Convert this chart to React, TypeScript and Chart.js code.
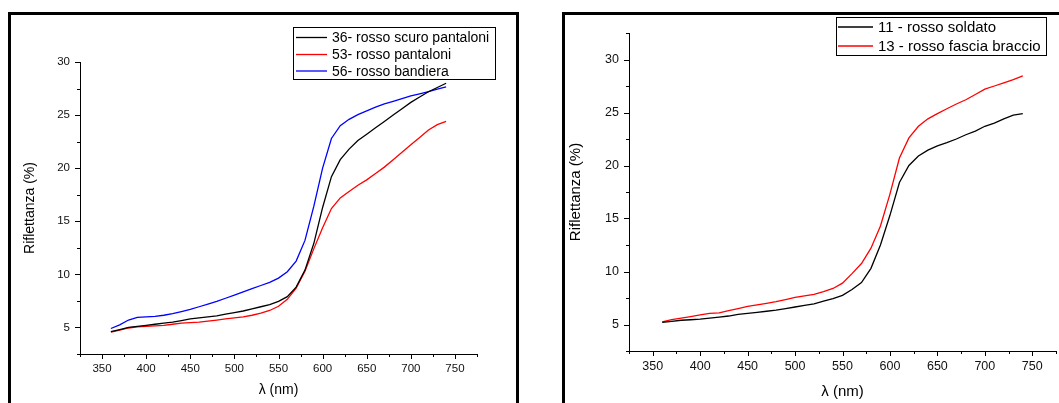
import React, { useEffect, useRef } from "react";
import { Chart, registerables } from "chart.js";

Chart.register(...registerables);

// ---------------- DATA ----------------
const wavelengths = [
  360, 370, 380, 390, 400, 410, 420, 430, 440, 450, 460, 470, 480, 490, 500,
  510, 520, 530, 540, 550, 560, 570, 580, 590, 600, 610, 620, 630, 640, 650,
  660, 670, 680, 690, 700, 710, 720, 730, 740,
];

// left panel
const rossoScuroPantaloni36 = [
  4.6, 4.8, 5.0, 5.1, 5.2, 5.3, 5.4, 5.5, 5.65, 5.8, 5.9, 6.0, 6.1, 6.25, 6.4,
  6.55, 6.75, 6.95, 7.15, 7.45, 7.9, 8.8, 10.4, 12.9, 16.3, 19.2, 20.8, 21.8, 22.6, 23.2,
  23.8, 24.4, 25.0, 25.6, 26.2, 26.7, 27.2, 27.6, 28.0,
];
const rossoPantaloni53 = [
  4.55, 4.75, 4.95, 5.05, 5.1, 5.15, 5.2, 5.3, 5.4, 5.45, 5.5, 5.6, 5.7, 5.8, 5.9,
  6.0, 6.15, 6.35, 6.6, 7.0, 7.65, 8.7, 10.3, 12.4, 14.4, 16.2, 17.2, 17.8, 18.4, 18.9,
  19.5, 20.1, 20.8, 21.5, 22.2, 22.9, 23.6, 24.1, 24.4,
];
const rossoBandiera56 = [
  4.9, 5.25, 5.7, 5.95, 6.0, 6.05, 6.15, 6.3, 6.5, 6.7, 6.95, 7.2, 7.45, 7.75, 8.05,
  8.35, 8.65, 8.95, 9.25, 9.65, 10.25, 11.25, 13.2, 16.4, 20.0, 22.8, 24.0, 24.6, 25.05, 25.4,
  25.75, 26.05, 26.3, 26.55, 26.8, 27.0, 27.2, 27.45, 27.65,
];

// right panel
const rossoSoldato11 = [
  5.2, 5.3, 5.4, 5.45, 5.5, 5.6, 5.7, 5.8, 5.95, 6.05, 6.15, 6.25, 6.35, 6.5, 6.65,
  6.8, 6.95, 7.2, 7.45, 7.75, 8.3, 8.95, 10.3, 12.5, 15.3, 18.4, 20.0, 20.9, 21.45, 21.85,
  22.15, 22.5, 22.9, 23.25, 23.7, 24.0, 24.4, 24.75, 24.9,
];
const rossoFasciaBraccio13 = [
  5.25, 5.45, 5.6, 5.75, 5.9, 6.05, 6.1, 6.3, 6.5, 6.7, 6.85, 7.0, 7.15, 7.35, 7.55,
  7.7, 7.85, 8.1, 8.4, 8.9, 9.8, 10.75, 12.2, 14.3, 17.3, 20.7, 22.6, 23.7, 24.4, 24.9,
  25.35, 25.8, 26.2, 26.7, 27.2, 27.5, 27.8, 28.1, 28.45,
];

const leftLabels = ["36- rosso scuro pantaloni", "53- rosso pantaloni", "56- rosso bandiera"];
const rightLabels = ["11 - rosso soldato", "13 - rosso fascia braccio"];

const X_MIN = 325;
const X_MAX = 775;
const X_STEP = 25;
const X_LABEL_STEP = 50;
const Y_MIN = 2.5;
const Y_MAX_LEFT = 30;
const Y_MAX_RIGHT = 32.5;
const Y_STEP = 2.5;
const Y_LABEL_STEP = 5;

const X_TITLE = "λ (nm)";
const Y_TITLE = "Riflettanza (%)";

// ---------------- STYLE ----------------
const FONT = '"Liberation Sans", Arial, Helvetica, sans-serif';
const H = 403;

const isMult = (v: number, step: number) => {
  const r = Math.abs(v / step - Math.round(v / step));
  return r < 1e-6;
};

interface LegendSpec {
  x: number;
  y: number;
  w: number;
  h: number;
  lineX0: number;
  lineX1: number;
  textX: number;
  rows: number[];
  font: number;
}

interface PanelSpec {
  width: number;
  left: number;
  area: { left: number; right: number; top: number; bottom: number };
  yMax: number;
  tickFont: number;
  titleFont: number;
  yTitlePad: number;
  xTitlePad: number;
  series: { label: string; color: string; values: number[] }[];
  legend: LegendSpec;
}

const leftSpec: PanelSpec = {
  width: 530,
  left: 0,
  area: { left: 80, right: 477, top: 62, bottom: 354 },
  yMax: Y_MAX_LEFT,
  tickFont: 11.5,
  titleFont: 14,
  yTitlePad: 21.6,
  xTitlePad: 4,
  series: [
    { label: leftLabels[0], color: "#000000", values: rossoScuroPantaloni36 },
    { label: leftLabels[1], color: "#ff0000", values: rossoPantaloni53 },
    { label: leftLabels[2], color: "#0000ff", values: rossoBandiera56 },
  ],
  legend: {
    x: 293.5,
    y: 27.5,
    w: 202,
    h: 52,
    lineX0: 296,
    lineX1: 327,
    textX: 332,
    rows: [37.5, 54.5, 71],
    font: 14,
  },
};

const rightSpec: PanelSpec = {
  width: 529,
  left: 530,
  area: { left: 99, right: 526, top: 33, bottom: 351 },
  yMax: Y_MAX_RIGHT,
  tickFont: 12.5,
  titleFont: 15,
  yTitlePad: 36.7,
  xTitlePad: 2,
  series: [
    { label: rightLabels[0], color: "#000000", values: rossoSoldato11 },
    { label: rightLabels[1], color: "#ff0000", values: rossoFasciaBraccio13 },
  ],
  legend: {
    x: 306.5,
    y: 17.5,
    w: 210,
    h: 38,
    lineX0: 308,
    lineX1: 343,
    textX: 348,
    rows: [27, 46],
    font: 15,
  },
};

function Panel({ spec }: { spec: PanelSpec }) {
  const ref = useRef<HTMLCanvasElement>(null);

  useEffect(() => {
    const canvas = ref.current;
    if (!canvas) return;
    const a = spec.area;

    const ticksPlugin = {
      id: "axisTicks",
      afterDraw(chart: any) {
        const ctx = chart.ctx;
        const xs = chart.scales.x;
        const ys = chart.scales.y;
        const ca = chart.chartArea;
        ctx.save();
        ctx.strokeStyle = "#000";
        ctx.lineWidth = 1;
        ctx.beginPath();
        xs.ticks.forEach((t: any) => {
          const p = Math.round(xs.getPixelForValue(t.value)) + 0.5;
          const len = isMult(t.value, X_LABEL_STEP) ? 5 : 3;
          ctx.moveTo(p, ca.bottom);
          ctx.lineTo(p, ca.bottom + len);
        });
        ys.ticks.forEach((t: any) => {
          const p = Math.round(ys.getPixelForValue(t.value)) + 0.5;
          const len = isMult(t.value, Y_LABEL_STEP) ? 5 : 3;
          ctx.moveTo(ca.left, p);
          ctx.lineTo(ca.left - len, p);
        });
        ctx.stroke();
        ctx.restore();
      },
    };

    const legendPlugin = {
      id: "boxLegend",
      afterDraw(chart: any) {
        const ctx = chart.ctx;
        const L = spec.legend;
        ctx.save();
        ctx.fillStyle = "#fff";
        ctx.fillRect(L.x, L.y, L.w, L.h);
        ctx.strokeStyle = "#000";
        ctx.lineWidth = 1;
        ctx.strokeRect(L.x, L.y, L.w, L.h);
        ctx.font = `${L.font}px ${FONT}`;
        ctx.textBaseline = "middle";
        ctx.textAlign = "left";
        spec.series.forEach((s, i) => {
          const y = L.rows[i];
          ctx.strokeStyle = s.color;
          ctx.lineWidth = 1.3;
          ctx.beginPath();
          ctx.moveTo(L.lineX0, y);
          ctx.lineTo(L.lineX1, y);
          ctx.stroke();
          ctx.fillStyle = "#000";
          ctx.fillText(s.label, L.textX, y + 1);
        });
        ctx.restore();
      },
    };

    const chart = new Chart(canvas, {
      type: "line",
      data: {
        datasets: spec.series.map((s) => ({
          label: s.label,
          data: wavelengths.map((w, i) => ({ x: w, y: s.values[i] })),
          borderColor: s.color,
          backgroundColor: s.color,
          borderWidth: 1.3,
          pointRadius: 0,
          tension: 0,
          fill: false,
        })),
      },
      options: {
        animation: false,
        responsive: false,
        maintainAspectRatio: false,
        devicePixelRatio: 1,
        events: [],
        layout: {
          autoPadding: false,
          padding: { left: 0, top: a.top, right: spec.width - a.right, bottom: 0 },
        },
        plugins: {
          legend: { display: false },
          tooltip: { enabled: false },
          title: { display: false },
        },
        scales: {
          x: {
            type: "linear",
            min: X_MIN,
            max: X_MAX,
            afterFit(scale: any) {
              scale.height = H - a.bottom;
            },
            ticks: {
              stepSize: X_STEP,
              autoSkip: false,
              maxRotation: 0,
              padding: 3,
              color: "#111",
              font: { size: spec.tickFont, family: FONT },
              callback: (v: any) => (isMult(Number(v), X_LABEL_STEP) ? String(v) : ""),
            },
            grid: {
              display: true,
              drawOnChartArea: false,
              drawTicks: true,
              tickLength: 5,
              tickColor: "rgba(0,0,0,0)",
              color: "rgba(0,0,0,0)",
            },
            border: { display: true, color: "#000", width: 1 },
            title: {
              display: true,
              text: X_TITLE,
              color: "#000",
              font: { size: spec.titleFont, family: FONT },
              padding: { top: 0, bottom: spec.xTitlePad },
            },
          },
          y: {
            type: "linear",
            min: Y_MIN,
            max: spec.yMax,
            afterFit(scale: any) {
              scale.width = a.left;
            },
            ticks: {
              stepSize: Y_STEP,
              autoSkip: false,
              padding: 5,
              color: "#111",
              font: { size: spec.tickFont, family: FONT },
              callback: (v: any) => (isMult(Number(v), Y_LABEL_STEP) ? String(Math.round(Number(v))) : ""),
            },
            grid: {
              display: true,
              drawOnChartArea: false,
              drawTicks: true,
              tickLength: 5,
              tickColor: "rgba(0,0,0,0)",
              color: "rgba(0,0,0,0)",
            },
            border: { display: true, color: "#000", width: 1 },
            title: {
              display: true,
              text: Y_TITLE,
              color: "#000",
              font: { size: spec.titleFont, family: FONT },
              padding: { top: spec.yTitlePad, bottom: 0 },
            },
          },
        },
      } as any,
      plugins: [ticksPlugin, legendPlugin],
    });
    return () => chart.destroy();
  }, [spec]);

  return (
    <canvas
      ref={ref}
      width={spec.width}
      height={H}
      style={{ position: "absolute", left: spec.left, top: 0, width: spec.width, height: H }}
    />
  );
}

export default function App() {
  return (
    <div
      style={{
        position: "fixed",
        left: 0,
        top: 0,
        width: 1059,
        height: H,
        overflow: "hidden",
        background: "#fff",
      }}
    >
      <div
        style={{
          position: "absolute",
          left: 8,
          top: 12,
          width: 511,
          height: 430,
          border: "3px solid #000",
          boxSizing: "border-box",
        }}
      />
      <div
        style={{
          position: "absolute",
          left: 562,
          top: 12,
          width: 540,
          height: 430,
          border: "3px solid #000",
          boxSizing: "border-box",
        }}
      />
      <Panel spec={leftSpec} />
      <Panel spec={rightSpec} />
    </div>
  );
}
